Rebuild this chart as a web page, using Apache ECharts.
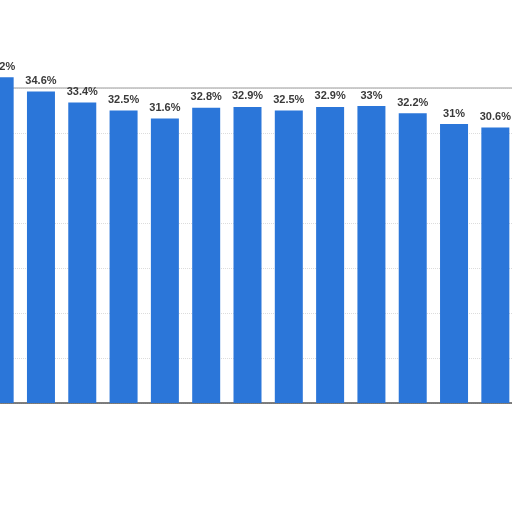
<!DOCTYPE html>
<html>
<head>
<meta charset="utf-8">
<script src="https://cdn.jsdelivr.net/npm/echarts@6/dist/echarts.min.js"></script>
<style>html,body{margin:0;padding:0;background:#fff;overflow:hidden;width:512px;height:512px;position:relative;}#c{position:absolute;left:-21px;top:0;width:537px;height:512px;}</style>
</head>
<body>
<div id="c"></div>
<script>
var categories = ['c1','c2','c3','c4','c5','c6','c7','c8','c9','c10','c11','c12','c13'];
var shares = [36.2, 34.6, 33.4, 32.5, 31.6, 32.8, 32.9, 32.5, 32.9, 33, 32.2, 31, 30.6];
var yTicks = [0, 5, 10, 15, 20, 25, 30, 35];

var chart = echarts.init(document.getElementById('c'));
chart.setOption({
  animation: false,
  backgroundColor: '#ffffff',
  grid: { left: 0, right: 0, top: 88, bottom: 109 },
  xAxis: {
    type: 'category',
    data: categories,
    axisLabel: { show: false },
    axisTick: { show: false },
    axisLine: { lineStyle: { color: '#555', width: 1.5 } }
  },
  yAxis: {
    type: 'value',
    min: yTicks[0],
    max: yTicks[yTicks.length - 1],
    interval: 5,
    axisLabel: { show: false },
    axisLine: { show: false },
    axisTick: { show: false },
    splitLine: { lineStyle: { color: '#dcdcdc', type: 'dotted' } }
  },
  series: [{
    type: 'bar',
    data: shares,
    barWidth: 28,
    clip: false,
    itemStyle: { color: '#2b76d9' },
    label: {
      show: true,
      position: 'top',
      distance: 5,
      formatter: function (p) { return p.value + '%'; },
      color: '#3a3a3a',
      fontFamily: 'Liberation Sans, Arial, sans-serif',
      fontWeight: 'bold',
      fontSize: 11
    },
    markLine: {
      silent: true,
      symbol: 'none',
      label: { show: false },
      lineStyle: { color: '#bdbdbd', type: 'solid', width: 1.5 },
      data: [{ yAxis: 35 }],
      z: 1
    }
  }]
});
</script>
</body>
</html>
